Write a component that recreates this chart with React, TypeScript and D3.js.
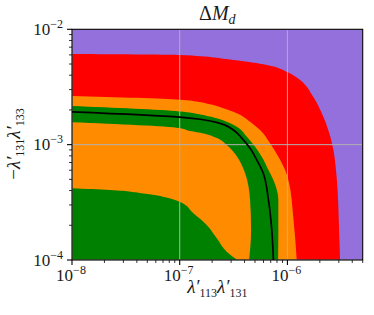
import React from 'react';
import * as d3 from 'd3';

const W = 374;
const H = 315;
const PL = 72, PR = 362.7, PT = 29.3, PB = 260;

const xDomain: [number, number] = [1e-8, 5e-6];
const yDomain: [number, number] = [1e-4, 1e-2];
const xMajor = [1e-8, 1e-7, 1e-6];
const xMajorExp = ['−8', '−7', '−6'];
const yMajor = [1e-4, 1e-3, 1e-2];
const yMajorExp = ['−4', '−3', '−2'];

type P = [number, number];

const redBoundary: P[] = [
  [1e-8, 6.1e-3], [1e-7, 5.98e-3], [3.13e-7, 5.42e-3], [6.44e-7, 4.91e-3],
  [1.01e-6, 4.24e-3], [1.31e-6, 3.63e-3], [1.73e-6, 2.61e-3], [2.15e-6, 1.75e-3],
  [2.55e-6, 1.1e-3], [2.88e-6, 4.94e-4], [3.02e-6, 1.82e-4], [3.08e-6, 1e-4],
];
const orangeOuterBoundary: P[] = [
  [1e-8, 2.64e-3], [1e-7, 2.45e-3], [1.91e-7, 2.24e-3], [2.54e-7, 2.07e-3],
  [3.39e-7, 1.87e-3], [4.5e-7, 1.58e-3], [5.57e-7, 1.34e-3], [6.9e-7, 1.03e-3],
  [8.24e-7, 7.87e-4], [9.52e-7, 6.03e-4], [1.02e-6, 4.94e-4], [1.14e-6, 2.22e-4],
  [1.22e-6, 1e-4],
];
const greenBandOuter: P[] = [
  [1e-8, 2.16e-3], [1e-7, 1.94e-3], [1.55e-7, 1.83e-3], [1.91e-7, 1.75e-3],
  [2.73e-7, 1.58e-3], [3.39e-7, 1.43e-3], [4.2e-7, 1.17e-3], [5.01e-7, 9.59e-4],
  [5.78e-7, 7.87e-4], [6.67e-7, 6.03e-4], [7.41e-7, 4.94e-4], [8.24e-7, 3.31e-4],
  [8.24e-7, 1.82e-4], [8.2e-7, 1e-4],
];
const greenBandInner: P[] = [
  [1e-8, 1.56e-3], [1e-7, 1.39e-3], [1.25e-7, 1.31e-3], [1.66e-7, 1.25e-3],
  [2.21e-7, 1.14e-3], [2.73e-7, 9.93e-4], [3.15e-7, 8.69e-4], [3.64e-7, 7.11e-4],
  [4.05e-7, 5.65e-4], [4.5e-7, 3.31e-4], [4.6e-7, 1.82e-4], [4.41e-7, 1e-4],
];
const greenInnerBoundary: P[] = [
  [1e-8, 4.19e-4], [2.25e-8, 4.05e-4], [4.59e-8, 3.78e-4], [1e-7, 3.2e-4],
  [1.34e-7, 2.54e-4], [1.78e-7, 2.01e-4], [2.21e-7, 1.54e-4], [2.73e-7, 1.18e-4],
  [3.44e-7, 1e-4],
];
const centralLine: P[] = [
  [1e-8, 1.92e-3], [1e-7, 1.73e-3], [1.55e-7, 1.66e-3], [2.37e-7, 1.53e-3],
  [3.15e-7, 1.34e-3], [3.77e-7, 1.14e-3], [4.5e-7, 9.29e-4], [5.2e-7, 7.36e-4],
  [5.91e-7, 5.79e-4], [6.67e-7, 3.31e-4], [7.16e-7, 1.82e-4], [7.41e-7, 1e-4],
];

const regions: { pts: P[]; color: string }[] = [
  { pts: redBoundary, color: '#ff0000' },
  { pts: orangeOuterBoundary, color: '#ff8c00' },
  { pts: greenBandOuter, color: '#008000' },
  { pts: greenBandInner, color: '#ff8c00' },
  { pts: greenInnerBoundary, color: '#008000' },
];

const FONT = "Liberation Serif, Times New Roman, DejaVu Serif, serif";

export default function App() {
  const x = d3.scaleLog().domain(xDomain).range([PL, PR]);
  const y = d3.scaleLog().domain(yDomain).range([PB, PT]);
  const line = d3
    .line<P>()
    .x((d) => x(d[0]))
    .y((d) => y(d[1]))
    .curve(d3.curveMonotoneY);
  const regionPath = (pts: P[]) =>
    `${line(pts)}L${x(xDomain[0])},${y(yDomain[0])}Z`;

  const xMinor = x.ticks().filter((t) => !xMajor.some((m) => Math.abs(m - t) / m < 1e-6));
  const yMinor = y.ticks().filter((t) => !yMajor.some((m) => Math.abs(m - t) / m < 1e-6));

  const majLen = 5, minLen = 3;

  return (
    <div>
      <style>{'body{margin:0} svg text{font-family:"Liberation Serif","Times New Roman","DejaVu Serif",serif;fill:#1a1a1a}'}</style>
      <svg width={W} height={H} style={{ display: 'block', background: '#fff' }} fontFamily={FONT}>
        <defs>
          <clipPath id="plotClip">
            <rect x={PL} y={PT} width={PR - PL} height={PB - PT} />
          </clipPath>
        </defs>
        <g clipPath="url(#plotClip)">
          <rect x={PL} y={PT} width={PR - PL} height={PB - PT} fill="#9370db" />
          {regions.map((r, i) => (
            <path key={i} d={regionPath(r.pts)} fill={r.color} stroke="none" />
          ))}
          {xMajor.map((t, i) => (
            <line key={'gx' + i} x1={x(t)} x2={x(t)} y1={PT} y2={PB} stroke="#b0b0b0" strokeWidth={1} />
          ))}
          {yMajor.map((t, i) => (
            <line key={'gy' + i} x1={PL} x2={PR} y1={y(t)} y2={y(t)} stroke="#b0b0b0" strokeWidth={1} />
          ))}
          <path d={line(centralLine) || ''} fill="none" stroke="#000" strokeWidth={1.7} />
        </g>
        <rect x={PL} y={PT} width={PR - PL} height={PB - PT} fill="none" stroke="#000" strokeWidth={1.1} />
        {xMajor.map((t, i) => (
          <line key={'xt' + i} x1={x(t)} x2={x(t)} y1={PB} y2={PB + majLen} stroke="#000" strokeWidth={1.1} />
        ))}
        {xMinor.map((t, i) => (
          <line key={'xm' + i} x1={x(t)} x2={x(t)} y1={PB} y2={PB + minLen} stroke="#000" strokeWidth={0.8} />
        ))}
        {yMajor.map((t, i) => (
          <line key={'yt' + i} x1={PL - majLen} x2={PL} y1={y(t)} y2={y(t)} stroke="#000" strokeWidth={1.1} />
        ))}
        {yMinor.map((t, i) => (
          <line key={'ym' + i} x1={PL - minLen} x2={PL} y1={y(t)} y2={y(t)} stroke="#000" strokeWidth={0.8} />
        ))}
        {xMajor.map((t, i) => (
          <text key={'xl' + i} x={x(t) - 1} y={281} textAnchor="middle" fontSize={17}>
            10<tspan dy={-7} fontSize={12}>{xMajorExp[i]}</tspan>
          </text>
        ))}
        {yMajor.map((t, i) => (
          <text key={'yl' + i} x={63} y={y(t) + 5.5} textAnchor="end" fontSize={17}>
            10<tspan dy={-7} fontSize={12}>{yMajorExp[i]}</tspan>
          </text>
        ))}
        <text x={217.3} y={20} textAnchor="middle" fontSize={20}>
          Δ<tspan fontStyle="italic">M</tspan>
          <tspan fontStyle="italic" fontSize={14} dy={4}>d</tspan>
        </text>
        <text x={217.3} y={293} textAnchor="middle" fontSize={19}>
          <tspan fontStyle="italic">λ′</tspan>
          <tspan dy={4} fontSize={12}>113</tspan>
          <tspan dy={-4} fontStyle="italic">λ′</tspan>
          <tspan dy={4} fontSize={12}>131</tspan>
        </text>
        <text transform="translate(20,144) rotate(-90)" textAnchor="middle" fontSize={19}>
          −<tspan fontStyle="italic">λ′</tspan>
          <tspan dy={4} fontSize={12}>131</tspan>
          <tspan dy={-4} fontStyle="italic">λ′</tspan>
          <tspan dy={4} fontSize={12}>133</tspan>
        </text>
      </svg>
    </div>
  );
}
